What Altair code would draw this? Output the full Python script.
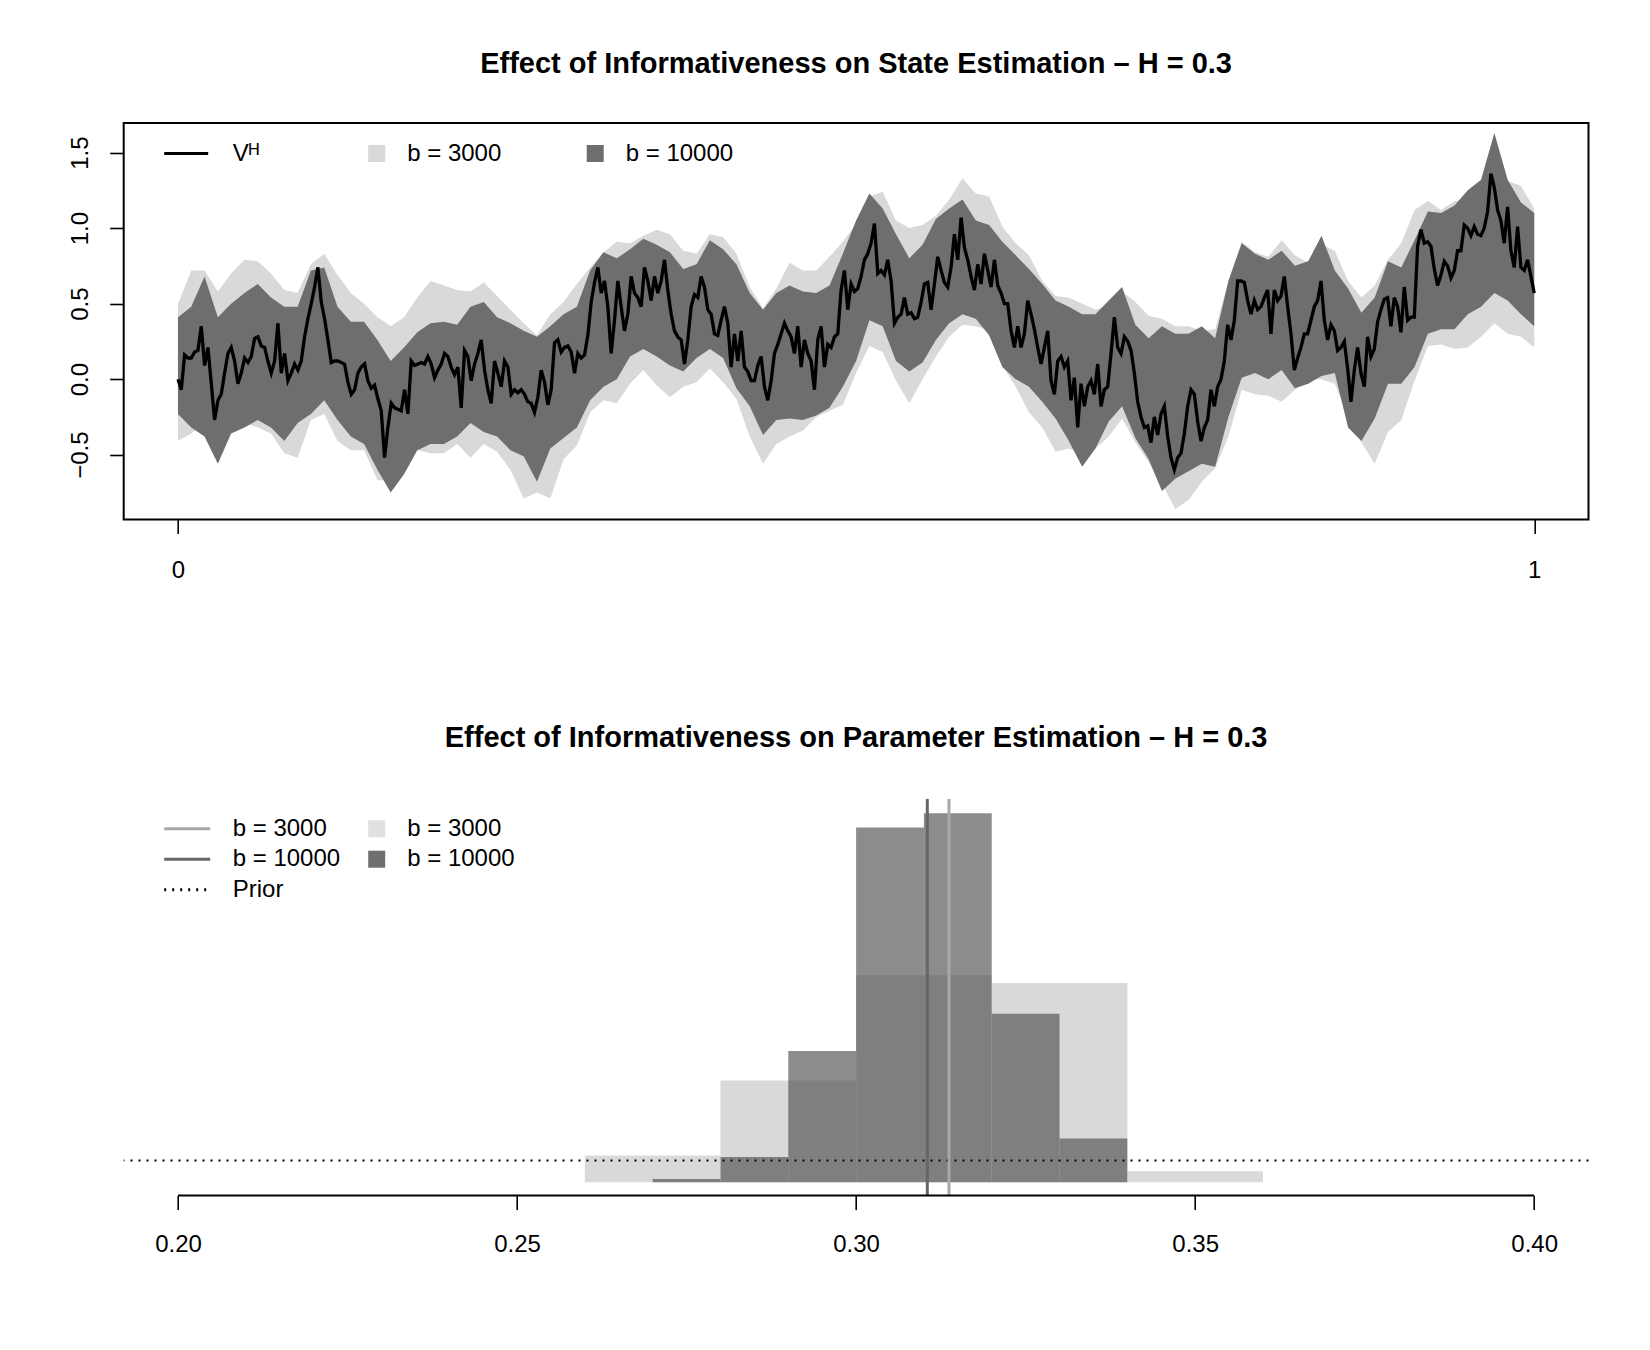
import altair as alt
import numpy as np
import pandas as pd

# ---------------- data ----------------
# State path V^H (regular time grid on [0, 1])
V_H = [
    0.00, -0.07, 0.16, 0.14, 0.14, 0.18, 0.19, 0.35, 0.09, 0.21,
    -0.03, -0.27, -0.14, -0.10, 0.04, 0.17, 0.21, 0.12, -0.03, 0.04,
    0.14, 0.11, 0.15, 0.27, 0.28, 0.22, 0.21, 0.12, 0.04, 0.12,
    0.37, 0.04, 0.17, -0.01, 0.04, 0.10, 0.06, 0.12, 0.28, 0.40,
    0.50, 0.61, 0.74, 0.51, 0.40, 0.26, 0.11, 0.12, 0.12, 0.11,
    0.10, -0.02, -0.10, -0.07, 0.04, 0.08, 0.10, -0.01, -0.06, -0.04,
    -0.13, -0.21, -0.52, -0.32, -0.16, -0.19, -0.20, -0.21, -0.07, -0.23,
    0.12, 0.09, 0.10, 0.11, 0.10, 0.15, 0.10, 0.01, 0.06, 0.10,
    0.17, 0.15,
    0.08, 0.03, 0.08, -0.19, 0.19, 0.15, -0.01, 0.10, 0.17, 0.26,
    0.06, -0.07, -0.16, 0.12, 0.04, -0.05, 0.12, 0.08, -0.10, -0.07,
    -0.09, -0.07, -0.10, -0.15, -0.16, -0.22, -0.12, 0.06, -0.02, -0.17,
    -0.07, 0.24, 0.26, 0.18, 0.21, 0.22, 0.18, 0.04, 0.17, 0.14,
    0.16, 0.29, 0.51, 0.64, 0.74, 0.57, 0.65, 0.48, 0.17, 0.39,
    0.65, 0.48, 0.32, 0.43, 0.68, 0.57, 0.54, 0.48, 0.74, 0.65,
    0.52, 0.68, 0.57, 0.65, 0.79, 0.59, 0.43, 0.32, 0.28, 0.26,
    0.10, 0.26, 0.48, 0.56, 0.54, 0.68, 0.61, 0.46, 0.43, 0.30,
    0.29, 0.39,
    0.48, 0.37, 0.08, 0.30, 0.12, 0.32, 0.08, 0.05, -0.01, -0.01,
    0.09, 0.15, -0.05, -0.14, -0.01, 0.17, 0.23, 0.30, 0.37, 0.32,
    0.28, 0.17, 0.35, 0.08, 0.26, 0.17, 0.12, -0.07, 0.26, 0.35,
    0.08, 0.23, 0.21, 0.28, 0.30, 0.59, 0.72, 0.46, 0.63, 0.58,
    0.60, 0.68, 0.79, 0.83, 0.90, 1.03, 0.70, 0.72, 0.69, 0.79,
    0.65, 0.37, 0.41, 0.43, 0.54, 0.43, 0.44, 0.40, 0.41, 0.51,
    0.63, 0.64, 0.46, 0.63, 0.81, 0.72, 0.64, 0.61, 0.74, 0.96,
    0.79, 1.07, 0.87, 0.79, 0.68, 0.59, 0.76, 0.63, 0.83, 0.72,
    0.61, 0.79,
    0.62, 0.57, 0.50, 0.50, 0.32, 0.21, 0.35, 0.21, 0.30, 0.52,
    0.43, 0.33, 0.21, 0.10, 0.21, 0.32, -0.01, -0.10, 0.12, 0.15,
    0.08, 0.12, -0.14, 0.01, -0.32, -0.03, -0.18, -0.05, -0.01, -0.10,
    0.10, -0.18, -0.07, -0.05, 0.17, 0.41, 0.21, 0.17, 0.28, 0.25,
    0.19, 0.04, -0.15, -0.25, -0.32, -0.31, -0.42, -0.25, -0.37, -0.23,
    -0.18, -0.38, -0.52, -0.60, -0.52, -0.49, -0.36, -0.18, -0.07, -0.10,
    -0.28, -0.41, -0.32, -0.27, -0.07, -0.18, -0.05, 0.00, 0.12, 0.36,
    0.26, 0.39, 0.65, 0.65, 0.64, 0.52, 0.43, 0.52, 0.46, 0.48,
    0.54, 0.59,
    0.30, 0.59, 0.52, 0.55, 0.68, 0.48, 0.30, 0.06, 0.14, 0.21,
    0.30, 0.30, 0.39, 0.48, 0.52, 0.65, 0.39, 0.26, 0.36, 0.32,
    0.19, 0.21, 0.25, 0.07, -0.15, 0.06, 0.21, 0.04, -0.05, 0.28,
    0.15, 0.20, 0.38, 0.46, 0.53, 0.54, 0.35, 0.54, 0.48, 0.31,
    0.61, 0.39, 0.41, 0.41, 0.88, 0.99, 0.90, 0.91, 0.88, 0.73,
    0.62, 0.69, 0.78, 0.75, 0.67, 0.72, 0.85, 0.85, 1.02, 1.00,
    0.95, 1.01, 0.96, 0.95, 1.00, 1.11, 1.36, 1.27, 1.12, 1.05,
    0.90, 1.14, 0.85, 0.74, 1.01, 0.74, 0.72, 0.79, 0.68, 0.57,
]

# Band b = 10000 (dark), upper / lower edges on a coarser regular grid
DARK_HI = [
    0.41, 0.48, 0.68, 0.41, 0.50, 0.57, 0.63, 0.54, 0.48, 0.48, 0.72, 0.74, 0.48, 0.38, 0.38, 0.26, 0.12, 0.21, 0.31, 0.37, 0.38,
    0.36, 0.48, 0.51, 0.41, 0.37, 0.32, 0.28, 0.35, 0.43, 0.48, 0.72, 0.84, 0.80, 0.86, 0.93, 0.89, 0.84, 0.73, 0.76, 0.92,
    0.86, 0.76, 0.57, 0.46, 0.57, 0.62, 0.58, 0.57, 0.62, 0.83, 1.05, 1.23, 1.13, 0.96, 0.80, 0.89, 1.06, 1.13, 1.19, 1.05, 1.02,
    0.91, 0.82, 0.73, 0.63, 0.52, 0.48, 0.43, 0.43, 0.52, 0.61, 0.36, 0.27, 0.35, 0.30, 0.30, 0.35, 0.27, 0.65, 0.90, 0.83, 0.79,
    0.85, 0.75, 0.78, 0.95, 0.72, 0.60, 0.44, 0.54, 0.78, 0.74, 0.92, 1.11, 1.10, 1.15, 1.25, 1.32, 1.63, 1.32, 1.17, 1.10,
]
DARK_LO = [
    -0.23, -0.32, -0.38, -0.56, -0.36, -0.32, -0.27, -0.32, -0.41, -0.29, -0.23, -0.14, -0.27, -0.38, -0.43, -0.60, -0.75, -0.63, -0.47, -0.43, -0.43,
    -0.38, -0.29, -0.35, -0.38, -0.47, -0.51, -0.68, -0.46, -0.39, -0.32, -0.14, -0.05, 0.00, 0.15, 0.20, 0.15, 0.09, 0.05, 0.14, 0.20,
    0.14, -0.06, -0.18, -0.37, -0.27, -0.26, -0.27, -0.24, -0.19, -0.05, 0.12, 0.39, 0.35, 0.12, 0.05, 0.11, 0.26, 0.37, 0.43, 0.40, 0.29,
    0.08, 0.00, -0.05, -0.15, -0.26, -0.41, -0.58, -0.46, -0.28, -0.18, -0.39, -0.53, -0.74, -0.66, -0.61, -0.56, -0.58, -0.25, 0.01, 0.04, 0.00,
    0.06, -0.06, -0.03, 0.02, 0.04, -0.32, -0.41, -0.26, -0.03, -0.03, 0.08, 0.30, 0.33, 0.33, 0.43, 0.48, 0.57, 0.52, 0.43, 0.35,
]
# Band b = 3000 (light)
LIGHT_HI = [
    0.50, 0.72, 0.72, 0.58, 0.70, 0.79, 0.78, 0.70, 0.59, 0.57, 0.76, 0.83, 0.69, 0.57, 0.50, 0.41, 0.35, 0.41, 0.54, 0.65, 0.62,
    0.59, 0.58, 0.64, 0.55, 0.46, 0.37, 0.29, 0.43, 0.51, 0.63, 0.74, 0.84, 0.91, 0.90, 0.95, 0.99, 0.96, 0.85, 0.83, 0.96,
    0.94, 0.83, 0.61, 0.47, 0.60, 0.77, 0.72, 0.72, 0.81, 0.91, 1.03, 1.21, 1.24, 1.05, 1.00, 1.02, 1.08, 1.19, 1.33, 1.23, 1.21,
    1.01, 0.90, 0.82, 0.65, 0.55, 0.54, 0.50, 0.46, 0.49, 0.58, 0.51, 0.42, 0.40, 0.35, 0.35, 0.32, 0.33, 0.65, 0.91, 0.84, 0.81,
    0.92, 0.82, 0.77, 0.89, 0.85, 0.65, 0.54, 0.62, 0.79, 0.90, 1.12, 1.18, 1.12, 1.18, 1.19, 1.22, 1.47, 1.31, 1.28, 1.13,
]
LIGHT_LO = [
    -0.41, -0.36, -0.29, -0.49, -0.32, -0.29, -0.32, -0.36, -0.49, -0.52, -0.27, -0.23, -0.41, -0.47, -0.47, -0.67, -0.67, -0.58, -0.47, -0.49, -0.49,
    -0.43, -0.52, -0.43, -0.48, -0.60, -0.79, -0.75, -0.79, -0.53, -0.44, -0.22, -0.14, -0.16, -0.03, 0.06, -0.04, -0.12, -0.05, -0.02, 0.07,
    -0.02, -0.13, -0.38, -0.56, -0.43, -0.38, -0.34, -0.25, -0.21, -0.17, 0.04, 0.22, 0.18, -0.01, -0.16, 0.00, 0.15, 0.28, 0.36, 0.35, 0.32,
    0.09, -0.05, -0.22, -0.32, -0.48, -0.46, -0.49, -0.46, -0.38, -0.26, -0.42, -0.55, -0.69, -0.86, -0.80, -0.68, -0.59, -0.38, -0.07, -0.10, -0.11,
    -0.15, -0.07, 0.00, 0.00, -0.03, -0.25, -0.42, -0.56, -0.35, -0.27, -0.01, 0.22, 0.23, 0.20, 0.21, 0.28, 0.37, 0.30, 0.28, 0.21,
]

# Posterior histograms of H (density scale)
H3000_EDGES = [0.26, 0.28, 0.30, 0.32, 0.34, 0.36]
H3000_DENS = [2.45, 9.3, 18.9, 18.2, 1.0]
H10000_EDGES = [0.27, 0.28, 0.29, 0.30, 0.31, 0.32, 0.33, 0.34]
H10000_DENS = [0.3, 2.3, 12.0, 32.4, 33.7, 15.4, 4.0]
POST_LABELS = ["b = 3000", "b = 10000"]
POST_MEANS = [0.3137, 0.3105]
PRIOR_DENS = 2.0

TOP_TICKS = [-0.5, 0.0, 0.5, 1.0, 1.5]
BOTTOM_TICKS = [0.20, 0.25, 0.30, 0.35, 0.40]

TITLE_TOP = "Effect of Informativeness on State Estimation \u2013 H = 0.3"
TITLE_BOTTOM = "Effect of Informativeness on Parameter Estimation \u2013 H = 0.3"
VH_LABEL = "V\u1d34"

# ---------------- styling ----------------
FONT = "Liberation Sans"
W, H = 1464.8, 396.6
LIGHT = "#d9d9d9"
DARK = "#6e6e6e"

t_line = np.linspace(0.0, 1.0, len(V_H))
t_band = np.linspace(0.0, 1.0, len(DARK_HI))

line_df = pd.DataFrame({"t": t_line, "v": V_H, "series": VH_LABEL})
light_df = pd.DataFrame({"t": t_band, "lo": LIGHT_LO, "hi": LIGHT_HI, "band": "b = 3000"})
dark_df = pd.DataFrame({"t": t_band, "lo": DARK_LO, "hi": DARK_HI, "band": "b = 10000"})

axis_common = dict(grid=False, domain=False, tickColor="black", tickWidth=1.6, tickSize=14,
                   labelFont=FONT, labelFontSize=24, labelColor="black", labelFlush=False,
                   labelOverlap=False)

X_TOP = alt.X("t:Q", title=None,
              scale=alt.Scale(domain=[-0.04, 1.04], nice=False, zero=False),
              axis=alt.Axis(values=[0, 1], format="d", labelPadding=44,
                            labelBaseline="alphabetic", labelAlign="center", **axis_common))
Y_SCALE_TOP = alt.Scale(domain=[-0.930, 1.696], nice=False, zero=False)
Y_AXIS_TOP = alt.Axis(values=TOP_TICKS, format=".1f", labelAngle=270, labelAlign="center",
                      labelBaseline="alphabetic", labelPadding=22, **axis_common)

fill_top = alt.Fill("band:N", scale=alt.Scale(domain=["b = 3000", "b = 10000"], range=[LIGHT, DARK]),
                    legend=alt.Legend(title=None, orient="none", legendX=241, legendY=18.5,
                                      direction="horizontal", symbolType="square", symbolSize=289,
                                      symbolStrokeWidth=0, symbolOpacity=1, labelOffset=18.5,
                                      columnPadding=81.5, padding=0, labelFont=FONT,
                                      labelFontSize=24, labelColor="black"))

light_band = alt.Chart(light_df).mark_area(clip=True).encode(
    x=X_TOP, y=alt.Y("lo:Q", scale=Y_SCALE_TOP, axis=Y_AXIS_TOP, title=None), y2="hi:Q", fill=fill_top)
dark_band = alt.Chart(dark_df).mark_area(clip=True).encode(
    x=X_TOP, y=alt.Y("lo:Q", scale=Y_SCALE_TOP, axis=Y_AXIS_TOP, title=None), y2="hi:Q", fill=fill_top)
path = alt.Chart(line_df).mark_line(strokeWidth=3.3, clip=True).encode(
    x=X_TOP, y=alt.Y("v:Q", scale=Y_SCALE_TOP, axis=Y_AXIS_TOP, title=None),
    color=alt.Color("series:N", scale=alt.Scale(domain=[VH_LABEL], range=["black"]),
                    legend=alt.Legend(title=None, orient="none", legendX=50.5, legendY=18.5,
                                      direction="horizontal", symbolType="M-22,0H22", symbolSize=4,
                                      symbolStrokeWidth=3, labelOffset=34.5, padding=0,
                                      labelFont=FONT, labelFontSize=24, labelColor="black")))

top = alt.layer(light_band, dark_band, path).properties(
    width=W, height=H,
    title=alt.TitleParams(TITLE_TOP, font=FONT, fontSize=29, fontWeight="bold", color="black",
                          anchor="middle", offset=44),
    view=alt.ViewBackground(stroke="black", strokeWidth=2),
)

# ---------------- bottom panel ----------------
Y_MIN_B, Y_MAX_B = -1.215, 35.0
h3_df = pd.DataFrame({"x0": H3000_EDGES[:-1], "x1": H3000_EDGES[1:], "dens": H3000_DENS, "band": "b = 3000"})
h10_df = pd.DataFrame({"x0": H10000_EDGES[:-1], "x1": H10000_EDGES[1:], "dens": H10000_DENS, "band": "b = 10000"})
post_df = pd.DataFrame({"x0": POST_MEANS, "series": POST_LABELS})
prior_df = pd.DataFrame({"dens": [PRIOR_DENS], "series": ["Prior"]})
axis_df = pd.DataFrame({"x0": [BOTTOM_TICKS[0]], "x1": [BOTTOM_TICKS[-1]], "dens": [Y_MIN_B]})

X_B = alt.X("x0:Q", title=None,
            scale=alt.Scale(domain=[0.19199, 0.40801], nice=False, zero=False),
            axis=alt.Axis(values=BOTTOM_TICKS, format=".2f", labelPadding=42,
                          labelBaseline="alphabetic", labelAlign="center", **axis_common))
Y_SCALE_B = alt.Scale(domain=[Y_MIN_B, Y_MAX_B], nice=False, zero=False)
Y_B = alt.Y("dens:Q", title=None, scale=Y_SCALE_B, axis=None)

fill_b = alt.Fill("band:N", scale=alt.Scale(domain=["b = 3000", "b = 10000"], range=[LIGHT, "#4f4f4f"]),
                  legend=alt.Legend(title=None, orient="none", legendX=241, legendY=17.7,
                                    direction="vertical", symbolType="square", symbolSize=289,
                                    symbolStrokeWidth=0, symbolOpacity=0.82, labelOffset=18.5,
                                    rowPadding=6.5, padding=0, labelFont=FONT,
                                    labelFontSize=24, labelColor="black"))

line_legend = alt.Legend(title=None, orient="none", legendX=51.5, legendY=17.7, direction="vertical",
                         symbolType="M-23,0H23", symbolSize=4, symbolStrokeWidth=3, labelOffset=33.5,
                         rowPadding=6.5, padding=0, labelFont=FONT, labelFontSize=24, labelColor="black")
LINE_DOMAIN = ["b = 3000", "b = 10000", "Prior"]
color_b = alt.Color("series:N", scale=alt.Scale(domain=LINE_DOMAIN, range=["#a8a8a8", "#666666", "black"]),
                    legend=line_legend)
dash_b = alt.StrokeDash("series:N", scale=alt.Scale(domain=LINE_DOMAIN, range=[[1, 0], [1, 0], [2, 6]]),
                        legend=line_legend)

bars3 = alt.Chart(h3_df).mark_rect().encode(x=X_B, x2="x1:Q", y=Y_B, y2=alt.datum(0), fill=fill_b)
bars10 = alt.Chart(h10_df).mark_rect(opacity=0.65).encode(x=X_B, x2="x1:Q", y=Y_B, y2=alt.datum(0), fill=fill_b)
prior = alt.Chart(prior_df).mark_rule(strokeWidth=2).encode(y=Y_B, color=color_b, strokeDash=dash_b)
means = alt.Chart(post_df).mark_rule(strokeWidth=3).encode(x=X_B, color=color_b, strokeDash=dash_b)
axis_line = alt.Chart(axis_df).mark_rule(strokeWidth=2, color="black").encode(x=X_B, x2="x1:Q", y=Y_B)

bottom = alt.layer(bars3, bars10, prior, means, axis_line).properties(
    width=W, height=H,
    title=alt.TitleParams(TITLE_BOTTOM, font=FONT, fontSize=29, fontWeight="bold", color="black",
                          anchor="middle", offset=45),
    view=alt.ViewBackground(stroke="transparent"),
)

chart = alt.vconcat(top, bottom, spacing=279, bounds="flush").resolve_scale(
    x="independent", y="independent", color="independent", fill="independent", strokeDash="independent"
).resolve_legend(
    color="independent", fill="independent", strokeDash="independent"
).properties(
    padding={"left": 67.7, "top": 49.0, "right": 10, "bottom": 10},
    background="white",
).configure(font=FONT)

chart.save("out.html", embed_options={"renderer": "svg", "actions": False})
